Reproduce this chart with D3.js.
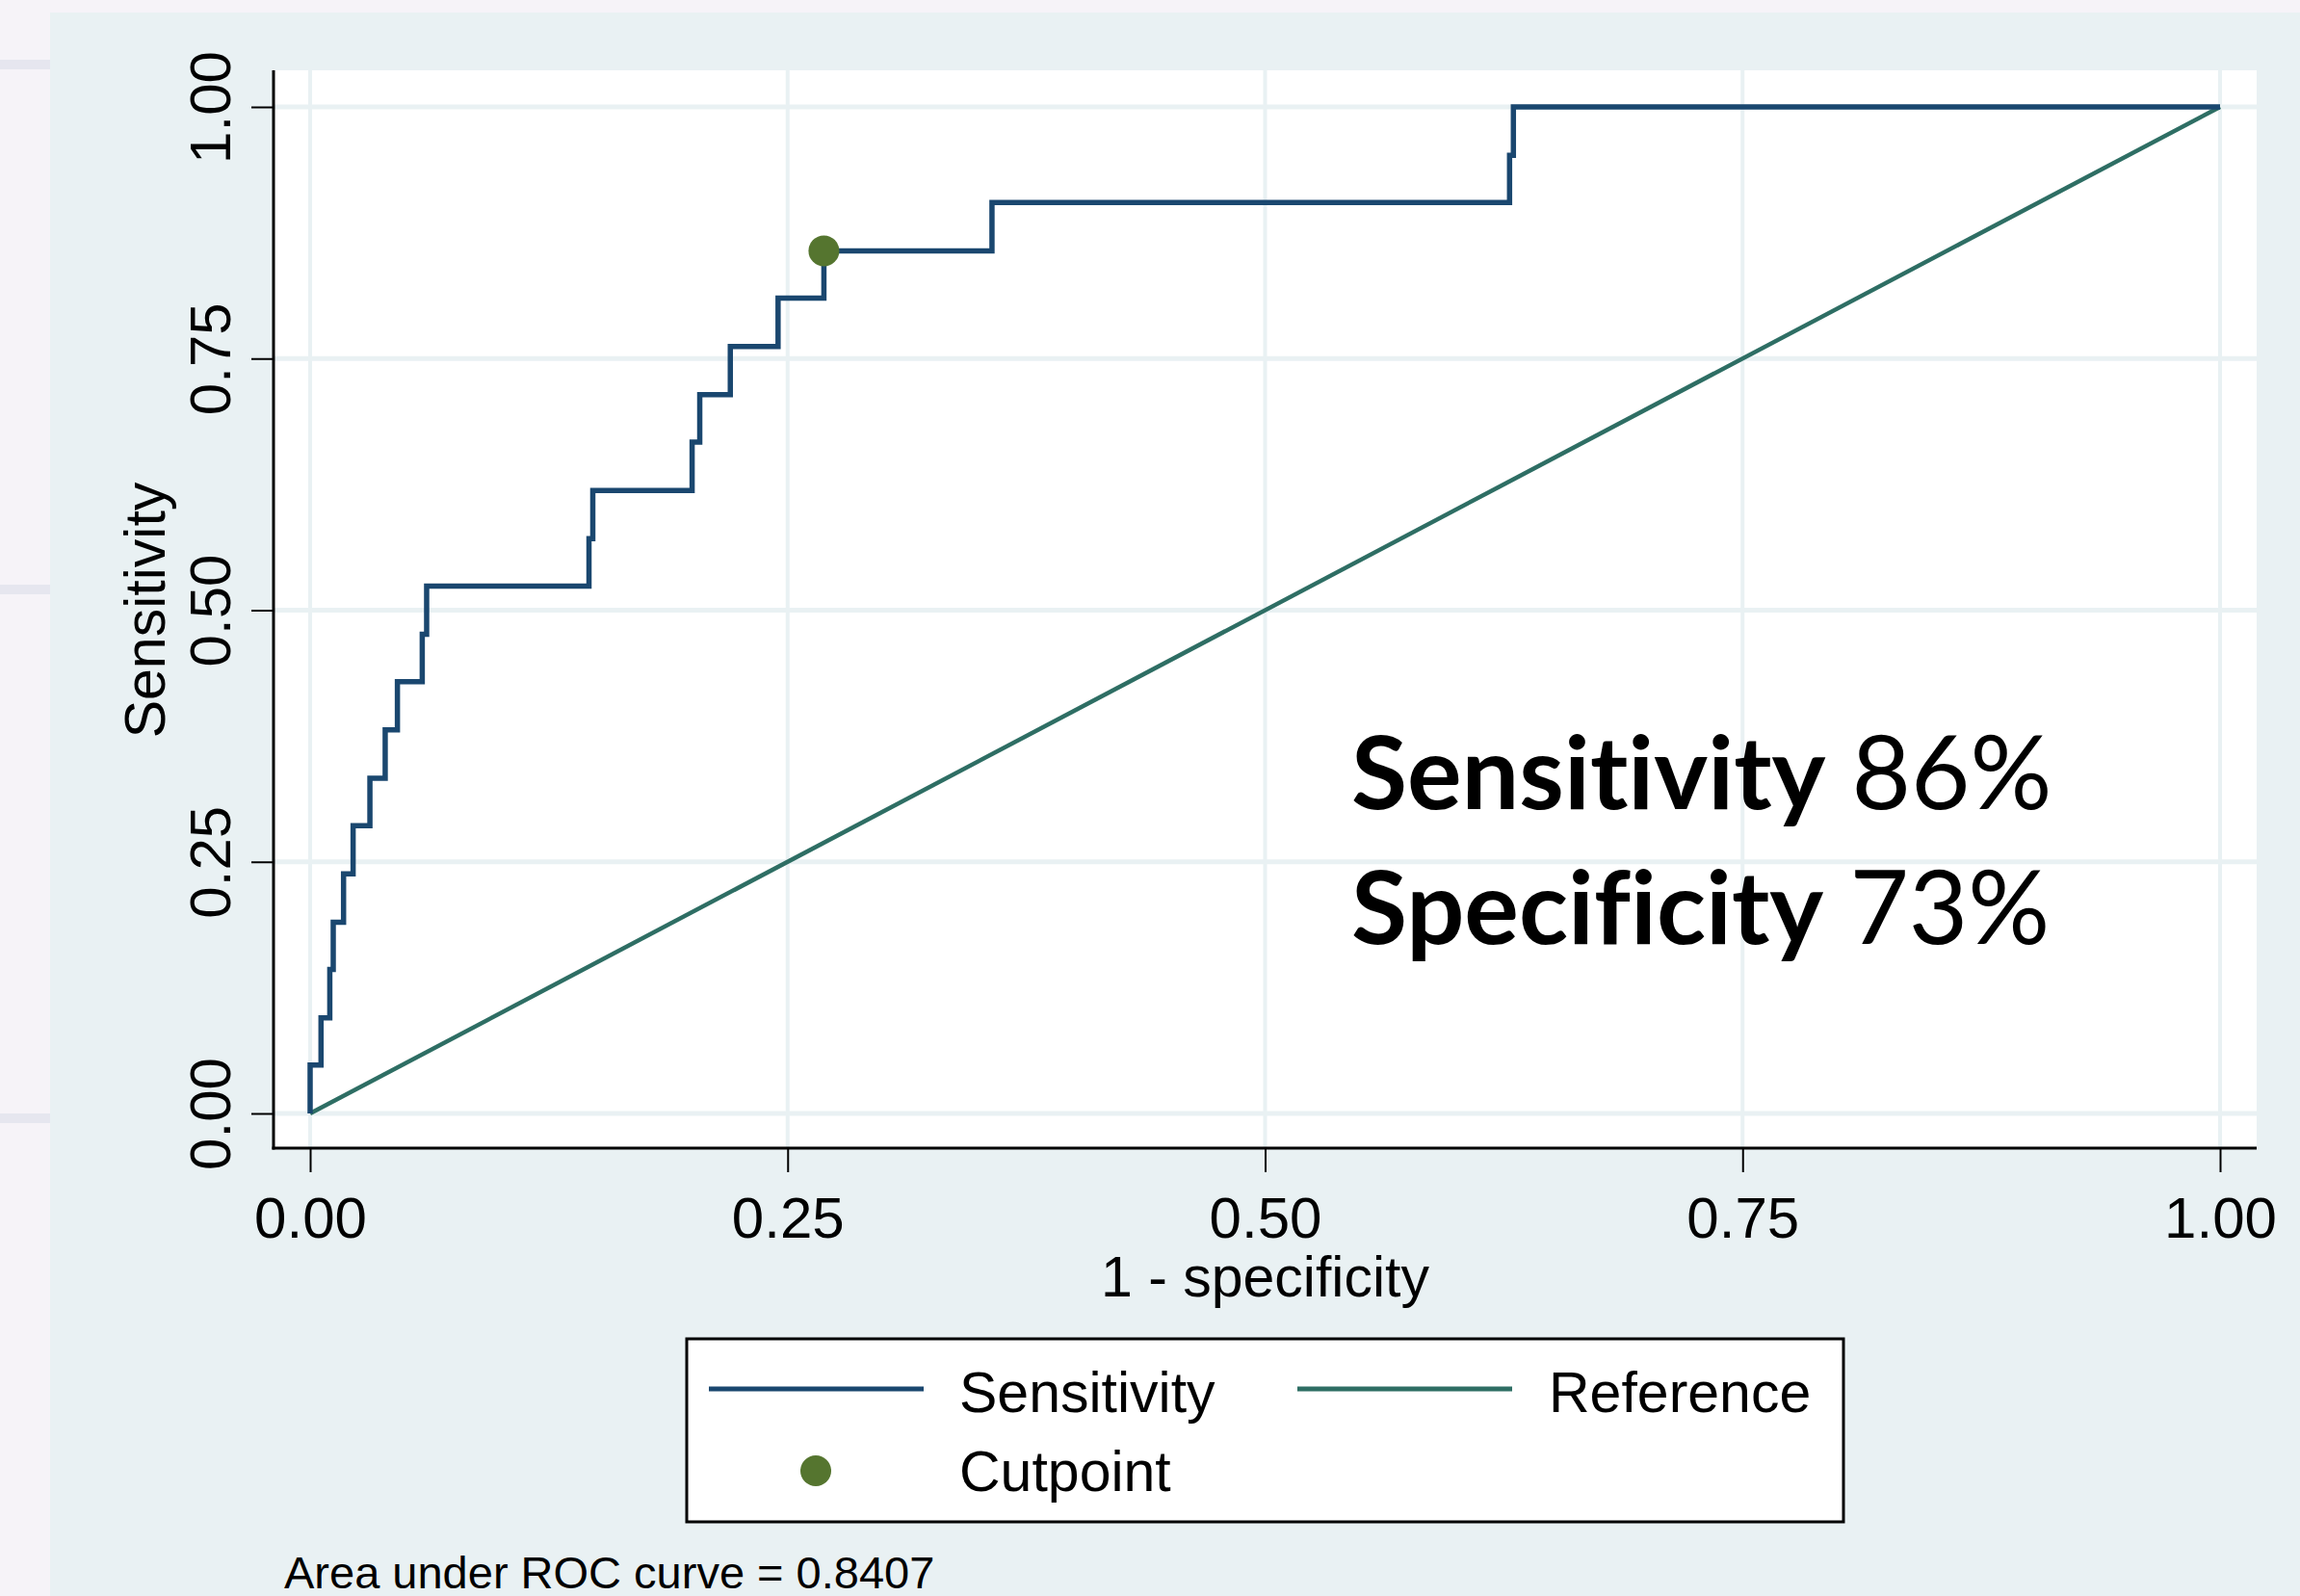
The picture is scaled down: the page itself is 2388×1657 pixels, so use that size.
<!DOCTYPE html>
<html>
<head>
<meta charset="utf-8">
<script src="https://cdn.jsdelivr.net/npm/d3@7"></script>
<style>
  body { margin: 0; background: #f6f3f8; }
  svg { display: block; }
</style>
</head>
<body>
<script>
// ROC operating points (1 - specificity, sensitivity)
let fpr = [0, 0, 0.0057, 0.0103, 0.0121, 0.0175, 0.0225, 0.0313, 0.0393, 0.0457, 0.0587, 0.061,
    0.146, 0.148, 0.200, 0.204, 0.220, 0.245, 0.269, 0.357, 0.628, 0.630, 1]
let tpr = [0, 0.048, 0.095, 0.143, 0.190, 0.238, 0.286, 0.333, 0.381, 0.429, 0.476, 0.524,
    0.571, 0.619, 0.667, 0.714, 0.762, 0.810, 0.857, 0.905, 0.952, 1, 1]
let refX = [0, 1]
let refY = [0, 1]
let cutpoint = { x: 0.269, y: 0.857 }
let ticks = [0, 0.25, 0.5, 0.75, 1]
let tickLabels = ['0.00', '0.25', '0.50', '0.75', '1.00']
let legendItems = ['Sensitivity', 'Reference', 'Cutpoint']
let aucText = 'Area under ROC curve = 0.8407'

const W = 2388, H = 1657
const navy = '#1a476f', teal = '#2e6e64', green = '#55752f'
const gridColor = '#e9f1f3'
const font = '"Liberation Sans", Arial, sans-serif'

var svg = d3.select('body').append('svg')
    .attr('width', W)
    .attr('height', H)

// slide background bits
svg.append('rect').attr('x', 0).attr('y', 0).attr('width', W).attr('height', H).attr('fill', '#f6f3f8')
;[62, 607, 1156].forEach(function (yy) {
    svg.append('rect').attr('x', 0).attr('y', yy).attr('width', 52).attr('height', 10).attr('fill', '#e6e6ef')
})

// graph region
svg.append('rect')
    .attr('x', 52).attr('y', 13)
    .attr('width', W - 52).attr('height', H - 13)
    .attr('fill', '#e9f1f3')

var x = d3.scaleLinear().domain([0, 1]).range([322, 2305])
var y = d3.scaleLinear().domain([0, 1]).range([1156, 111])

var plotLeft = 284, plotRight = 2343, plotTop = 73, plotBottom = 1192

svg.append('rect')
    .attr('x', plotLeft).attr('y', plotTop)
    .attr('width', plotRight - plotLeft).attr('height', plotBottom - plotTop)
    .attr('fill', '#ffffff')

// grid
svg.selectAll('.vgrid')
    .data(ticks)
    .enter()
    .append('line')
    .attr('x1', d => x(d)).attr('x2', d => x(d))
    .attr('y1', plotTop).attr('y2', plotBottom)
    .attr('stroke', gridColor).attr('stroke-width', 4)

svg.selectAll('.hgrid')
    .data(ticks)
    .enter()
    .append('line')
    .attr('x1', plotLeft).attr('x2', plotRight)
    .attr('y1', d => y(d)).attr('y2', d => y(d))
    .attr('stroke', gridColor).attr('stroke-width', 5)

// axes
var xAxis = d3.axisBottom(x)
    .tickValues(ticks)
    .tickFormat((d, i) => tickLabels[i])
    .tickSize(25)
    .tickPadding(0)

var yAxis = d3.axisLeft(y)
    .tickValues(ticks)
    .tickFormat((d, i) => tickLabels[i])
    .tickSize(23)

var gx = svg.append('g')
    .attr('transform', 'translate(0,' + plotBottom + ')')
    .call(xAxis)
gx.select('.domain').remove()
gx.selectAll('.tick line').attr('stroke', '#000').attr('stroke-width', 2)
gx.selectAll('.tick text')
    .attr('y', 93).attr('dy', 0)
    .attr('fill', '#000')
    .style('font-family', font).style('font-size', '60px')

var gy = svg.append('g')
    .attr('transform', 'translate(' + plotLeft + ',0)')
    .call(yAxis)
gy.select('.domain').remove()
gy.selectAll('.tick line').attr('stroke', '#000').attr('stroke-width', 2)
gy.selectAll('.tick text')
    .attr('transform', 'rotate(-90)')
    .attr('x', 0).attr('y', -45).attr('dy', 0)
    .attr('text-anchor', 'middle')
    .attr('fill', '#000')
    .style('font-family', font).style('font-size', '60px')

svg.append('line')
    .attr('x1', plotLeft).attr('x2', plotLeft)
    .attr('y1', plotTop).attr('y2', plotBottom + 1.5)
    .attr('stroke', '#000').attr('stroke-width', 3)
svg.append('line')
    .attr('x1', plotLeft - 1.5).attr('x2', plotRight)
    .attr('y1', plotBottom).attr('y2', plotBottom)
    .attr('stroke', '#000').attr('stroke-width', 3)

// axis titles
svg.append('text')
    .attr('x', x(0.5)).attr('y', 1346)
    .attr('text-anchor', 'middle')
    .style('font-family', font).style('font-size', '59px')
    .text('1 - specificity')

svg.append('text')
    .attr('transform', 'translate(171,' + ((y(0) + y(1)) / 2) + ') rotate(-90)')
    .attr('text-anchor', 'middle')
    .style('font-family', font).style('font-size', '59px')
    .text('Sensitivity')

// reference line
var line = d3.line()
    .x(d => x(d[0]))
    .y(d => y(d[1]))

svg.append('path')
    .datum(d3.zip(refX, refY))
    .attr('d', line)
    .attr('fill', 'none')
    .attr('stroke', teal)
    .attr('stroke-width', 4.5)

// ROC curve
svg.append('path')
    .datum(d3.zip(fpr, tpr))
    .attr('d', line.curve(d3.curveStepAfter))
    .attr('fill', 'none')
    .attr('stroke', navy)
    .attr('stroke-width', 5.5)
    .attr('stroke-linejoin', 'miter')

svg.append('circle')
    .attr('cx', x(cutpoint.x)).attr('cy', y(cutpoint.y))
    .attr('r', 16)
    .attr('fill', green)

// annotation
var ann = svg.append('g')
    .style('font-family', 'Lato, "Open Sans", sans-serif')
    .style('font-size', '106px')
    .style('font-variant-ligatures', 'none')
var t1 = ann.append('text').attr('x', 1403).attr('y', 840)
t1.append('tspan').attr('font-weight', 'bold').text('Sensitivity')
t1.append('tspan').text(' 86%')
var t2 = ann.append('text').attr('x', 1403).attr('y', 980)
t2.append('tspan').attr('font-weight', 'bold').text('Specificity')
t2.append('tspan').text(' 73%')

// legend
var lg = svg.append('g')
lg.append('rect')
    .attr('x', 713).attr('y', 1390)
    .attr('width', 1201).attr('height', 190)
    .attr('fill', '#fff')
    .attr('stroke', '#000').attr('stroke-width', 3)

lg.append('line').attr('x1', 736).attr('x2', 959).attr('y1', 1442).attr('y2', 1442)
    .attr('stroke', navy).attr('stroke-width', 5)
lg.append('line').attr('x1', 1347).attr('x2', 1570).attr('y1', 1442).attr('y2', 1442)
    .attr('stroke', teal).attr('stroke-width', 5)
lg.append('circle').attr('cx', 847).attr('cy', 1527).attr('r', 16).attr('fill', green)

var legendPos = [[996, 1466], [1608, 1466], [996, 1548]]
lg.selectAll('.ltext')
    .data(legendItems)
    .enter()
    .append('text')
    .attr('x', (d, i) => legendPos[i][0])
    .attr('y', (d, i) => legendPos[i][1])
    .style('font-family', font).style('font-size', '59px')
    .text(d => d)

// note
svg.append('text')
    .attr('x', 295).attr('y', 1649)
    .style('font-family', font).style('font-size', '47px')
    .text(aucText)
</script>
</body>
</html>
